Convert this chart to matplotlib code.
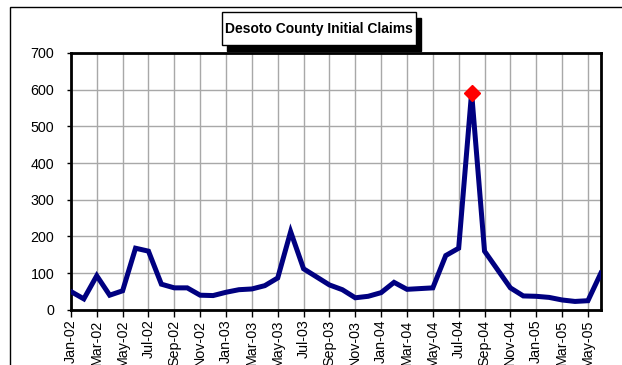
import matplotlib
matplotlib.use("Agg")
from matplotlib import pyplot as plt
from matplotlib.patches import Rectangle
import numpy as np

plt.rcParams['font.family'] = ['Liberation Sans', 'DejaVu Sans']

# monthly initial claims, Jan-02 .. Jun-05
months = ["Jan-02", "Feb-02", "Mar-02", "Apr-02", "May-02", "Jun-02", "Jul-02", "Aug-02",
          "Sep-02", "Oct-02", "Nov-02", "Dec-02", "Jan-03", "Feb-03", "Mar-03", "Apr-03",
          "May-03", "Jun-03", "Jul-03", "Aug-03", "Sep-03", "Oct-03", "Nov-03", "Dec-03",
          "Jan-04", "Feb-04", "Mar-04", "Apr-04", "May-04", "Jun-04", "Jul-04", "Aug-04",
          "Sep-04", "Oct-04", "Nov-04", "Dec-04", "Jan-05", "Feb-05", "Mar-05", "Apr-05",
          "May-05", "Jun-05"]
claims = [50, 30, 93, 40, 52, 168, 160, 70, 60, 60, 40, 39,
          48, 55, 57, 66, 87, 213, 112, 90, 68, 55, 33, 37,
          47, 75, 56, 58, 60, 148, 168, 592, 160, 110, 60, 38,
          37, 34, 27, 23, 25, 100]
peak_month = "Aug-04"
peak_value = 592

fig = plt.figure(figsize=(6.22, 3.65), dpi=100)
ax = fig.add_axes([0.114, 0.151, 0.852, 0.704])

x = np.arange(len(months))
ax.plot(x, claims, color="#000080", lw=3.6, solid_joinstyle="miter", zorder=3)
pi = months.index(peak_month)
ax.plot(pi, peak_value, marker="D", color="#ff0000", ms=8, mec="#ff0000", zorder=4)

ax.set_xlim(0, len(months) - 1)
ax.set_ylim(0, 700)
ax.set_yticks(range(0, 701, 100))
ax.set_xticks(x[::2])
ax.set_xticklabels(months[::2], rotation=90, fontsize=10.3)
ax.tick_params(axis="y", labelsize=10.3, length=3, width=1, pad=9)
ax.tick_params(axis="x", length=5, width=1, pad=2)
ax.grid(True, color="#a8a8a8", lw=1)
ax.set_axisbelow(True)
for s in ax.spines.values():
    s.set_linewidth(2)
    s.set_color("black")

# outer chart frame
fig.patches.append(Rectangle((10 / 622, -0.1), 1.1, 1.1 - 7 / 365 + 0.1 - 0.1,
                             transform=fig.transFigure, fill=False, ec="black", lw=1))

# title box with drop shadow
bx, by, bw, bh = 222 / 622, 1 - 45 / 365, 194 / 622, 33 / 365
fig.patches.append(Rectangle((bx + 5 / 622, by - 6 / 365), bw, bh, transform=fig.transFigure,
                             fc="black", ec="black", zorder=5))
fig.patches.append(Rectangle((bx, by), bw, bh, transform=fig.transFigure,
                             fc="white", ec="black", lw=1, zorder=6))
fig.text(bx + bw / 2, by + bh / 2, "Desoto County Initial Claims", ha="center", va="center",
         fontsize=10, fontweight="bold", zorder=7)

fig.savefig("out.png", dpi=100)
